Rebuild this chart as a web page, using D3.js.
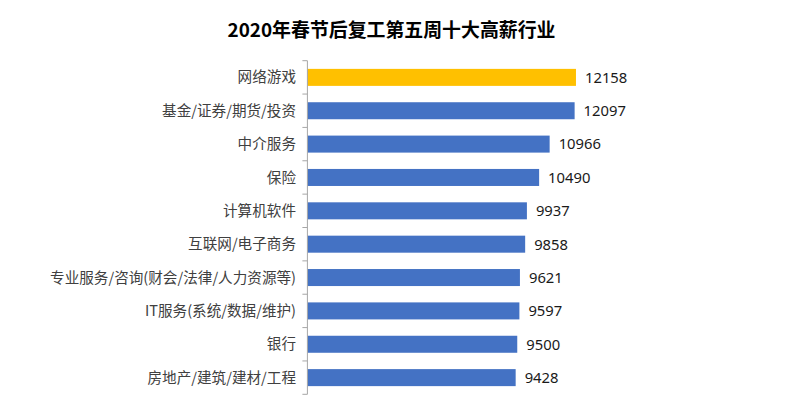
<!DOCTYPE html>
<html><head><meta charset="utf-8">
<script src="https://cdn.jsdelivr.net/npm/d3@7"></script>
<style>body{margin:0;background:#fff;}svg{display:block;}</style>
</head><body>
<svg id="c" width="787" height="407"></svg>
<script>
const title = "2020年春节后复工第五周十大高薪行业";
const categories = ["网络游戏","基金/证券/期货/投资","中介服务","保险","计算机软件","互联网/电子商务","专业服务/咨询(财会/法律/人力资源等)","IT服务(系统/数据/维护)","银行","房地产/建筑/建材/工程"];
const values = [12158,12097,10966,10490,9937,9858,9621,9597,9500,9428];
const highlight = ["网络游戏"];

const svg = d3.select("#c");
const fontCJK = "'Noto Sans CJK SC','Noto Sans',sans-serif";
const x0 = 307.4, yTop = 60.7, yBottom = 394.3;
const x = d3.scaleLinear().domain([0, 14000]).range([x0, x0 + 14000*0.02209]);
const y = d3.scaleBand().domain(categories).range([yTop, yBottom]).paddingInner(0.49).paddingOuter(0.245);

svg.append("text").attr("x", 391.5).attr("y", 37).attr("text-anchor","middle")
  .style("font-family", fontCJK).style("font-weight","bold").style("font-size","18.9px").attr("fill","#000").text(title);

svg.selectAll("rect.bar").data(categories).join("rect").attr("class","bar")
  .attr("x", x(0)).attr("y", d => y(d)).attr("height", y.bandwidth())
  .attr("width", (d,i) => x(values[i]) - x(0))
  .attr("fill", d => highlight.includes(d) ? "#FFC000" : "#4472C4");

const g = svg.append("g");
g.append("line").attr("x1", x0).attr("x2", x0).attr("y1", yTop).attr("y2", yBottom).attr("stroke","#a6a6a6").attr("stroke-width",1);
const bounds = d3.range(categories.length + 1).map(i => yTop + i*(yBottom-yTop)/categories.length);
g.selectAll("line.tk").data(bounds).join("line").attr("class","tk")
  .attr("x1", x0-5).attr("x2", x0).attr("y1", d=>d).attr("y2", d=>d).attr("stroke","#a6a6a6");

svg.selectAll("text.cat").data(categories).join("text").attr("class","cat")
  .attr("x", 296).attr("y", d => y(d) + y.bandwidth()/2).attr("dy","0.35em")
  .attr("text-anchor","end").style("font-family", fontCJK).style("font-size","14.6px").attr("fill","#404040").text(d=>d);

svg.selectAll("text.val").data(categories).join("text").attr("class","val")
  .attr("x", (d,i) => x(values[i]) + 9).attr("y", d => y(d) + y.bandwidth()/2).attr("dy","0.36em")
  .style("font-family", "'Noto Sans',sans-serif").style("font-size","14.8px").attr("fill","#1a1a1a").text((d,i)=>values[i]);
</script>
</body></html>
